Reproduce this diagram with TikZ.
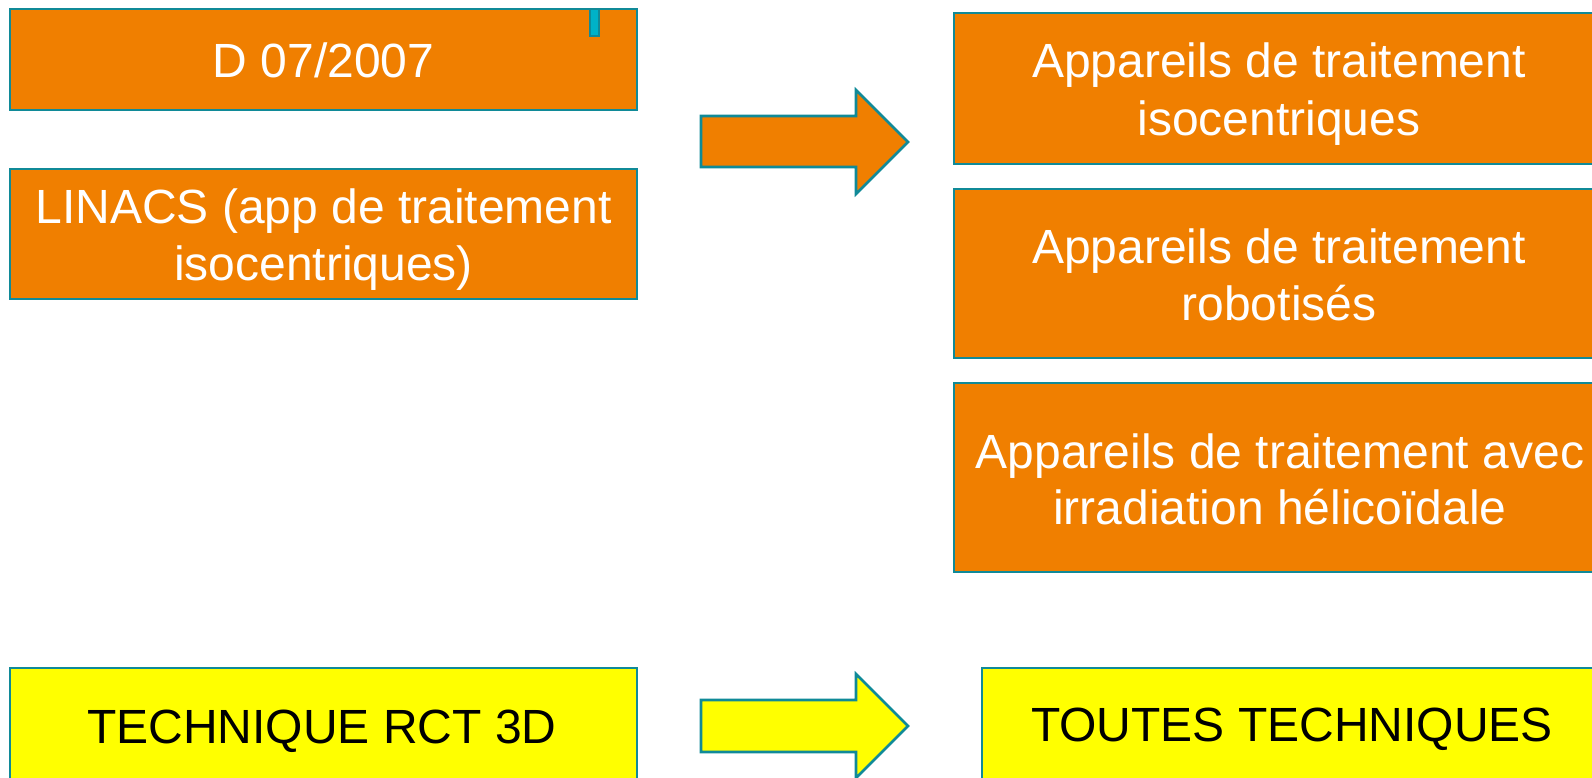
\documentclass[tikz,border=0pt]{standalone}
\usepackage{fontspec}
\setmainfont{Liberation Sans}
\definecolor{edge}{RGB}{16,138,152}
\definecolor{orng}{RGB}{240,127,0}
\definecolor{yell}{RGB}{255,255,0}
\definecolor{cyanmark}{RGB}{0,178,200}
\tikzset{
  box/.style={draw=edge, line width=2.6pt, rectangle, inner sep=0pt, outer sep=0pt},
  obox/.style={box, fill=orng},
  ybox/.style={box, fill=yell},
  wtxt/.style={anchor=base, inner sep=0pt, text=white, font=\fontsize{48}{57}\selectfont},
  btxt/.style={wtxt, text=black},
  bigarrow/.style={draw=edge, line width=2.6pt, line join=miter},
}
\begin{document}
\begin{tikzpicture}[x=1pt,y=-1pt]
\useasboundingbox (0,0) rectangle (1592,778);
\clip (0,0) rectangle (1592,778);
% left column
\node[obox, minimum width=627pt, minimum height=101pt] (d07) at (323.5,59.5) {};
\node[wtxt] (d07t) at (323.5,78) {D 07/2007};
\node[draw=edge, line width=2pt, fill=cyanmark, minimum width=9pt, minimum height=27pt, inner sep=0pt] (mark) at (594.5,23) {};
\node[obox, minimum width=627pt, minimum height=130pt] (linacs) at (323.5,234) {};
\node[wtxt] (linacs1) at (323.5,223) {LINACS (app de traitement};
\node[wtxt] (linacs2) at (323.5,280) {isocentriques)};
\node[ybox, minimum width=627pt, minimum height=114pt] (rct) at (323.5,725) {};
\node[btxt] (rctt) at (322,743) {TECHNIQUE RCT 3D};
% right column
\node[obox, minimum width=650pt, minimum height=151pt] (iso) at (1279,88.5) {};
\node[wtxt] (iso1) at (1279,78) {Appareils de traitement};
\node[wtxt] (iso2) at (1279,136) {isocentriques};
\node[obox, minimum width=650pt, minimum height=169pt] (robot) at (1279,273.5) {};
\node[wtxt] (robot1) at (1279,263) {Appareils de traitement};
\node[wtxt] (robot2) at (1279,320) {robotisés};
\node[obox, minimum width=650pt, minimum height=189pt] (helico) at (1279,477.5) {};
\node[wtxt] (helico1) at (1280,468) {Appareils de traitement avec};
\node[wtxt] (helico2) at (1280,524) {irradiation hélicoïdale};
\node[ybox, minimum width=620pt, minimum height=114pt] (toutes) at (1292,725) {};
\node[btxt] (toutest) at (1292,741) {TOUTES TECHNIQUES};
% arrows
\draw[bigarrow, fill=orng] (701,116) -- (856,116) -- (856,90) -- (908,142) -- (856,194) -- (856,167) -- (701,167) -- cycle;
\draw[bigarrow, fill=yell] (701,700) -- (856,700) -- (856,674) -- (908,726) -- (856,778) -- (856,752) -- (701,752) -- cycle;
\end{tikzpicture}
\end{document}
